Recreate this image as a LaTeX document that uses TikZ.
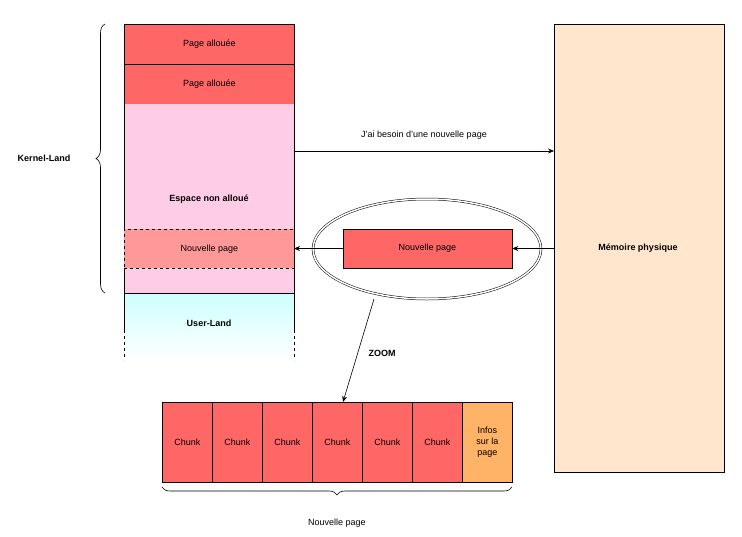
\documentclass[tikz,border=0pt]{standalone}
\usepackage{fontspec}
\setmainfont{Liberation Sans}
\usetikzlibrary{arrows.meta,decorations.pathreplacing,shapes.geometric}
\definecolor{red1}{HTML}{FF6666}
\definecolor{pink1}{HTML}{FFCCE6}
\definecolor{red2}{HTML}{FF9999}
\definecolor{cyan1}{HTML}{CCFFFF}
\definecolor{peach}{HTML}{FFE6CC}
\definecolor{orange1}{HTML}{FFB366}
\begin{document}
\begin{tikzpicture}[x=1pt,y=-1pt,font=\fontsize{9}{11}\selectfont,
  box/.style={draw=black,line width=0.6pt},
  arr/.style={-{Stealth[length=6pt,width=5pt]},line width=0.6pt}]
\useasboundingbox (0,0) rectangle (742,536);
% left column
\node[box,fill=red1,minimum width=170,minimum height=40,anchor=north west] (p1) at (124,24) {Page allouée};
\node[box,fill=red1,minimum width=170,minimum height=40,anchor=north west] (p2) at (124,64) {Page allouée};
\fill[pink1] (124,104) rectangle (294,293);
\draw[line width=0.6pt] (124,104) -- (124,293) (294,104) -- (294,293);
\node[font=\fontsize{9}{11}\selectfont\bfseries] (esp) at (209,199) {Espace non alloué};
\node[draw=black,dashed,fill=red2,minimum width=170,minimum height=39,anchor=north west,line width=0.6pt] (np) at (124,229) {Nouvelle page};
\shade[top color=cyan1,bottom color=white] (124,293) rectangle (294,360);
\draw[line width=0.6pt] (124,293) -- (294,293) (124,293) -- (124,330) (294,293) -- (294,330);
\draw[line width=0.6pt,dashed] (124,330) -- (124,360) (294,330) -- (294,360);
\node[font=\fontsize{9}{11}\selectfont\bfseries] (ul) at (209,323) {User-Land};
% brace
\coordinate (bt) at (105,24);
\coordinate (bb) at (105,293);
\draw[line width=0.6pt,decorate,decoration={brace,amplitude=9pt}] (bb) -- (bt);
\node[font=\fontsize{9}{11}\selectfont\bfseries] (kl) at (44,158) {Kernel-Land};
% memory
\node[box,fill=peach,minimum width=170,minimum height=448,anchor=north west] (mem) at (554,24) {};
\node[font=\fontsize{9}{11}\selectfont\bfseries] (meml) at (638,248) {Mémoire physique};
\coordinate (a1) at (294,151);
\coordinate (a2) at (554,151);
\draw[arr] (a1) -- node[above=8pt] {J'ai besoin d'une nouvelle page} (a2);
% ellipse and red box
\node[ellipse,draw=black,double,double distance=1.5pt,minimum width=228,minimum height=100,line width=0.5pt] (ell) at (427,249) {};
\node[box,fill=red1,minimum width=169,minimum height=39] (rb) at (427.5,248.5) {Nouvelle page};
\coordinate (m1) at (554,248.5);
\draw[arr] (m1) -- (rb.east);
\coordinate (l1) at (294,248.5);
\draw[arr] (rb.west) -- (l1);
% zoom
\coordinate (z1) at (374,299);
\coordinate (z2) at (343,402);
\draw[arr] (z1) -- (z2);
\node[font=\fontsize{9}{11}\selectfont\bfseries] (zl) at (382,353) {ZOOM};
% chunks
\foreach \i in {0,...,5}{
  \node[box,fill=red1,minimum width=50,minimum height=80,anchor=north west] (c\i) at (162+50*\i,402) {Chunk};
}
\node[box,fill=orange1,minimum width=50,minimum height=80,anchor=north west,align=center] (inf) at (462,402) {Infos\\sur la\\page};
\coordinate (bl) at (162,487);
\coordinate (br) at (512,487);
\draw[line width=0.6pt,decorate,decoration={brace,amplitude=8pt}] (br) -- (bl);
\node (npl) at (337,523) {Nouvelle page};
\end{tikzpicture}
\end{document}
